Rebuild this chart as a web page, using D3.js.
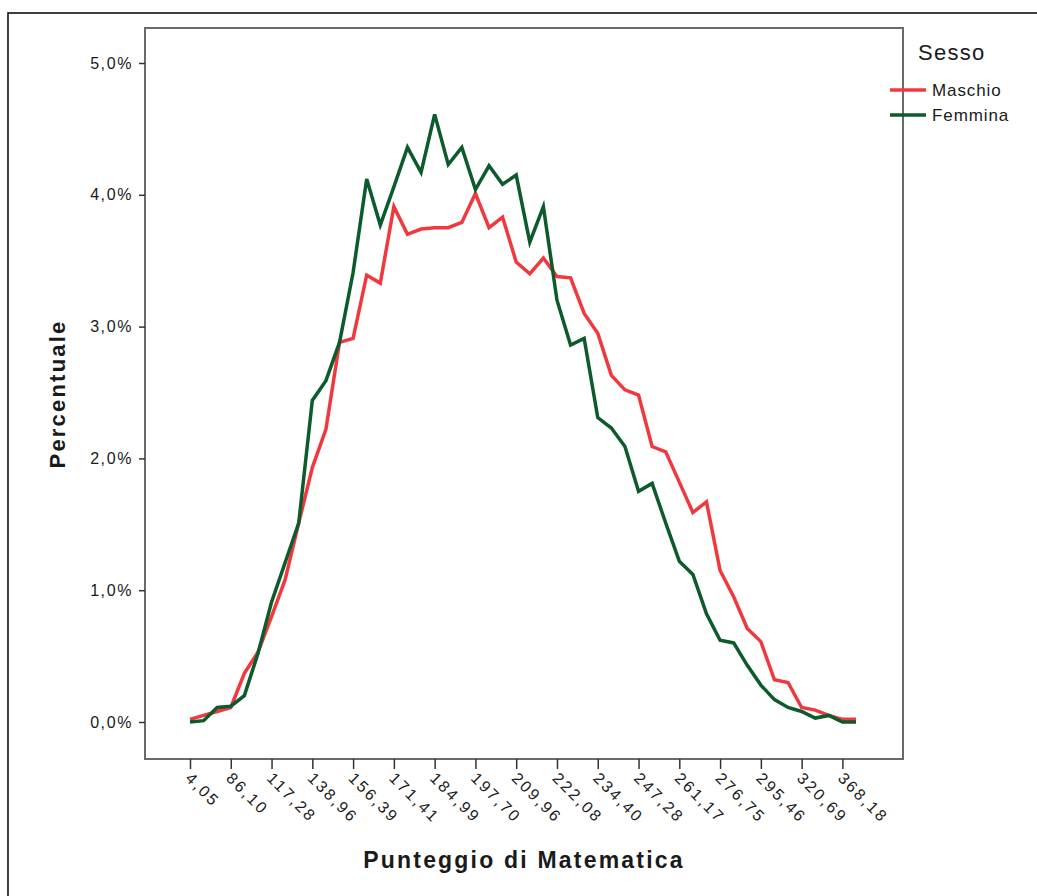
<!DOCTYPE html>
<html>
<head>
<meta charset="utf-8">
<script src="https://cdn.jsdelivr.net/npm/d3@7/dist/d3.min.js"></script>
<style>
  html, body { margin: 0; padding: 0; background: #fff; }
  svg { display: block; }
  text { font-family: "Liberation Sans", Arial, sans-serif; fill: #1a1a1a; }
</style>
</head>
<body>
<svg id="chart" width="1037" height="896"></svg>
<script>
// ---- Data ----
const categoryCount = 50; // score classes along the x axis
const categories = d3.range(categoryCount);
const tickLabels = ["4,05","86,10","117,28","138,96","156,39","171,41","184,99","197,70","209,96",
                    "222,08","234,40","247,28","261,17","276,75","295,46","320,69","368,18"];
const tickIndices = d3.range(0, categoryCount, 3); // a label every third class
const seriesNames = ["Maschio", "Femmina"];
const seriesColors = ["#f0393f", "#0d5a2c"];
const maschio = [0.02,0.05,0.08,0.11,0.37,0.53,0.80,1.08,1.51,1.93,
                 2.22,2.88,2.91,3.39,3.33,3.91,3.70,3.74,3.75,3.75,
                 3.79,4.01,3.75,3.83,3.49,3.40,3.52,3.38,3.37,3.10,
                 2.95,2.63,2.52,2.48,2.09,2.05,1.82,1.59,1.67,1.15,
                 0.95,0.71,0.61,0.32,0.30,0.11,0.09,0.05,0.02,0.02];
const femmina = [0.00,0.01,0.11,0.12,0.20,0.52,0.91,1.21,1.51,2.44,
                 2.59,2.88,3.41,4.12,3.77,4.06,4.36,4.17,4.61,4.23,
                 4.36,4.04,4.22,4.08,4.15,3.64,3.91,3.20,2.86,2.91,
                 2.31,2.23,2.09,1.75,1.81,1.51,1.22,1.12,0.82,0.62,
                 0.60,0.43,0.28,0.17,0.11,0.08,0.03,0.05,0.00,0.00];
const yTicks = [0, 1, 2, 3, 4, 5];

// ---- Layout ----
const svg = d3.select("#chart");
const frame = { left: 145, top: 28, right: 903, bottom: 759 };

// outer border
svg.append("rect").attr("x", 8).attr("y", 13).attr("width", 1100).attr("height", 1000)
  .attr("fill", "none").attr("stroke", "#111").attr("stroke-width", 1.6);

const x = d3.scalePoint().domain(categories).range([190, 856]);
const y = d3.scaleLinear().domain([0, 5]).range([722, 63]);

// plot frame
svg.append("rect")
  .attr("x", frame.left).attr("y", frame.top)
  .attr("width", frame.right - frame.left).attr("height", frame.bottom - frame.top)
  .attr("fill", "none").attr("stroke", "#6a6a6a").attr("stroke-width", 2);

// y axis
const fmt = v => d3.format(".1f")(v).replace(".", ",") + "%";
const yAxis = svg.append("g").attr("transform", `translate(${frame.left},0)`)
  .call(d3.axisLeft(y).tickValues(yTicks).tickSize(6).tickPadding(6).tickFormat(fmt));
yAxis.select(".domain").remove();
yAxis.selectAll(".tick line").attr("stroke", "#333").attr("stroke-width", 1.5);
yAxis.selectAll(".tick text")
  .style("font-size", "16px").style("letter-spacing", "1.6px")
  .attr("fill", "#1a1a1a");

// x axis
const xAxis = svg.append("g").attr("transform", `translate(0,${frame.bottom})`)
  .call(d3.axisBottom(x).tickValues(tickIndices).tickSize(10)
        .tickFormat(d => tickLabels[tickIndices.indexOf(d)]));
xAxis.select(".domain").remove();
xAxis.selectAll(".tick line").attr("stroke", "#333").attr("stroke-width", 1.5);
xAxis.selectAll(".tick text")
  .attr("text-anchor", "start")
  .attr("transform", "translate(0,10) rotate(45)")
  .attr("x", 3).attr("y", 0).attr("dy", "0.72em")
  .style("font-size", "16px").style("letter-spacing", "2.4px")
  .attr("fill", "#1a1a1a");

// lines
const line = d3.line().x((d, i) => x(categories[i])).y(d => y(d));
[maschio, femmina].forEach((s, k) => {
  svg.append("path").datum(s)
    .attr("fill", "none").attr("stroke", seriesColors[k]).attr("stroke-width", 3.5)
    .attr("stroke-linejoin", "miter").attr("d", line);
});

// axis titles
svg.append("text")
  .attr("transform", "translate(65,394) rotate(-90)")
  .attr("text-anchor", "middle")
  .style("font-size", "22px").style("font-weight", "bold").style("letter-spacing", "2.2px")
  .text("Percentuale");
svg.append("text")
  .attr("x", 524).attr("y", 868)
  .attr("text-anchor", "middle")
  .style("font-size", "23px").style("font-weight", "bold").style("letter-spacing", "2.2px")
  .text("Punteggio di Matematica");

// legend
const legend = svg.append("g");
legend.append("text").attr("x", 918).attr("y", 60)
  .style("font-size", "22px").style("letter-spacing", "1.3px").text("Sesso");
seriesNames.forEach((name, k) => {
  const ly = 90 + k * 25;
  legend.append("line").attr("x1", 890).attr("x2", 926).attr("y1", ly).attr("y2", ly)
    .attr("stroke", seriesColors[k]).attr("stroke-width", 3.5);
  legend.append("text").attr("x", 932).attr("y", ly + 6)
    .style("font-size", "17px").style("letter-spacing", "0.9px").text(name);
});
</script>
</body>
</html>
